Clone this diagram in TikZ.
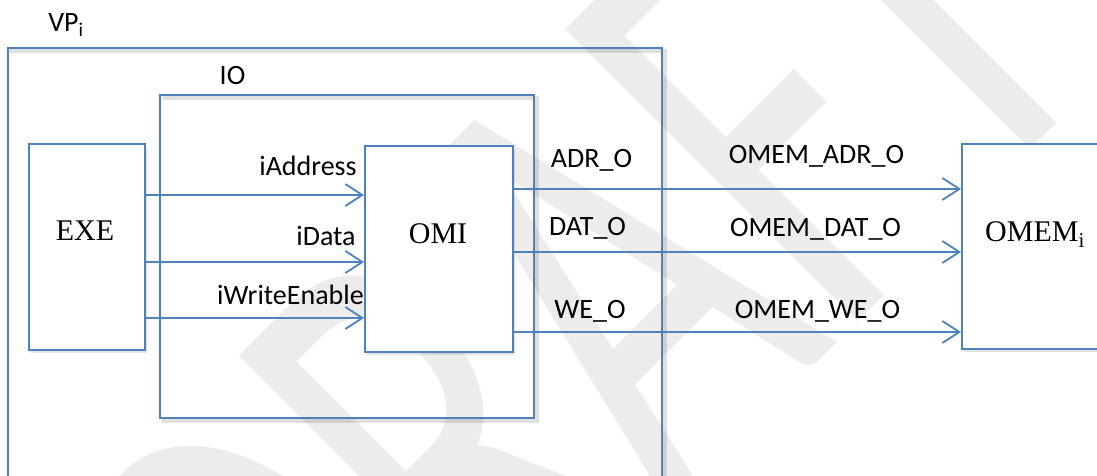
\documentclass[tikz,border=0pt]{standalone}
\usepackage{fontspec}
\setmainfont{Liberation Serif}
\newfontfamily\labfont{Carlito}
\usetikzlibrary{arrows.meta,shadows}
\definecolor{boxblue}{RGB}{79,129,189}
\tikzset{
  frame/.style={draw=boxblue, line width=1.8pt, rectangle, inner sep=0pt, anchor=north west},
  blk/.style={frame, fill=white, drop shadow={shadow xshift=2pt, shadow yshift=-3pt, opacity=0.22}},
  shline/.style={draw=black, opacity=0.12, line width=3.5pt},
  sig/.style={draw=boxblue, line width=1.8pt, -{Straight Barb[length=17pt,width=22pt,line width=1.8pt]}},
  lab/.style={font=\labfont\fontsize{28}{32}\selectfont, inner sep=0pt, anchor=base},
  serif/.style={font=\fontsize{30}{34}\selectfont, inner sep=0pt, anchor=base},
}
\begin{document}
\begin{tikzpicture}[x=1pt,y=-1pt]
\useasboundingbox (0,0) rectangle (1097,476);
\clip (0,0) rectangle (1097,476);
% watermark
\node[rotate=45, yscale=1.56, text=gray!15, font=\labfont\fontsize{413}{413}\selectfont, inner sep=0pt] (wm) at (577,311) {DRAFT};
% shadows of open frames
\draw[shline] (10,51) -- (665,51) -- (665,520);
\draw[shline] (162,98) -- (537,98) -- (537,421) -- (162,421);
% frames
\node[frame, minimum width=654pt, minimum height=480pt] (vp) at (7,47) {};
\node[frame, minimum width=374pt, minimum height=323pt] (io) at (159,94) {};
\node[blk, minimum width=116pt, minimum height=206pt] (exe) at (28,143) {};
\node[blk, minimum width=148pt, minimum height=206pt] (omi) at (364,145) {};
\node[blk, minimum width=200pt, minimum height=205pt] (omem) at (961,143) {};
% block texts
\node[serif] (texe) at (85,240.7) {EXE};
\node[serif] (tomi) at (438,243.3) {OMI};
\node[serif] (tomem) at (1035,241.7) {OMEM\textsubscript{i}};
\node[lab] (tvp) at (66,31.7) {VP\textsubscript{i}};
\node[lab] (tio) at (232.5,85) {IO};
% signal levels
\coordinate (ya) at (0,195);
\coordinate (yd) at (0,262);
\coordinate (yw) at (0,318);
\coordinate (oa) at (0,189);
\coordinate (od) at (0,252);
\coordinate (ow) at (0,332);
\draw[sig] (exe.east |- ya) -- (omi.west |- ya);
\draw[sig] (exe.east |- yd) -- (omi.west |- yd);
\draw[sig] (exe.east |- yw) -- (omi.west |- yw);
\draw[sig] (omi.east |- oa) -- (omem.west |- oa);
\draw[sig] (omi.east |- od) -- (omem.west |- od);
\draw[sig] (omi.east |- ow) -- (omem.west |- ow);
% signal labels
\node[lab] (la) at (308,175.7) {iAddress};
\node[lab] (ld) at (326,245.7) {iData};
\node[lab] (lw) at (290.5,304.7) {iWriteEnable};
\node[lab] (loa) at (591.5,167.3) {ADR\_O};
\node[lab] (lod) at (587.5,235) {DAT\_O};
\node[lab] (low) at (590,318) {WE\_O};
\node[lab] (lma) at (816.5,163) {OMEM\_ADR\_O};
\node[lab] (lmd) at (815.5,236.7) {OMEM\_DAT\_O};
\node[lab] (lmw) at (817.5,318.3) {OMEM\_WE\_O};
\end{tikzpicture}
\end{document}
